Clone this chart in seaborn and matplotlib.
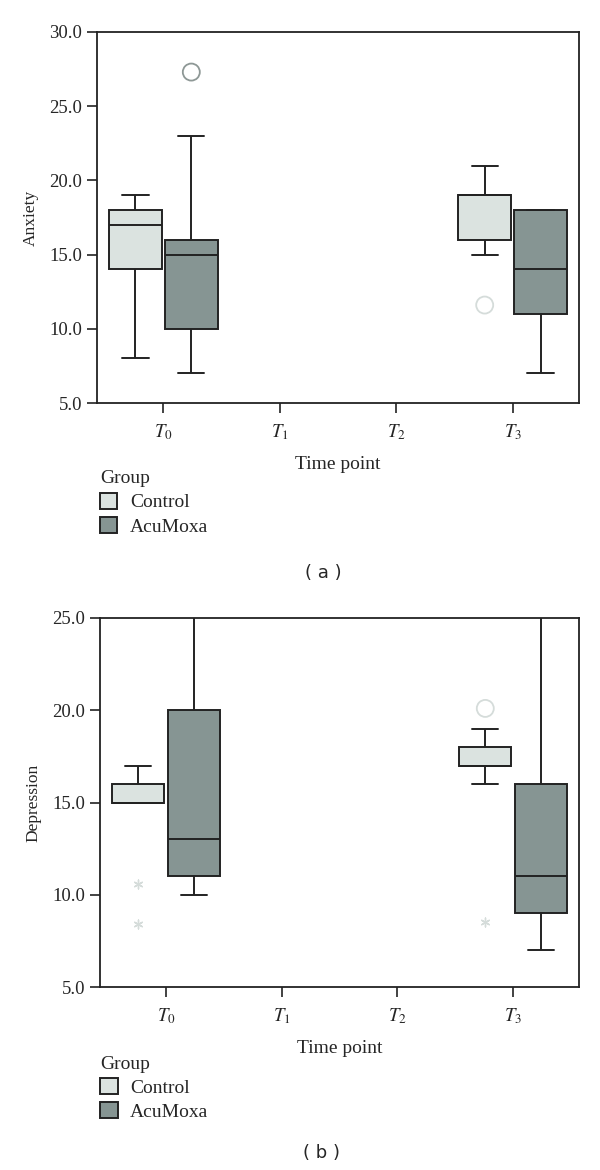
import numpy as np
import pandas as pd
import matplotlib
matplotlib.use('Agg')
import matplotlib.pyplot as plt
import seaborn as sns

sns.set_style('ticks')
plt.rcParams['font.family'] = ['Liberation Serif', 'DejaVu Serif']
plt.rcParams['mathtext.fontset'] = 'stix'

times = ['$T_0$', '$T_1$', '$T_2$', '$T_3$']
groups = ['Control', 'AcuMoxa']
colors = {'Control': '#dbe3e0', 'AcuMoxa': '#869593'}
flier_colors = {'Control': '#d5dcda', 'AcuMoxa': '#8e9896'}

# five-number summaries: low whisker, Q1, median, Q3, high whisker
anx_control_t0 = [8, 14, 17, 18, 19]
anx_acumoxa_t0 = [7, 10, 15, 16, 23]
anx_control_t3 = [15, 16, 19, 19, 21]
anx_acumoxa_t3 = [7, 11, 14, 18, 18]

dep_control_t0 = [15, 15, 15, 16, 17]
dep_acumoxa_t0 = [10, 11, 13, 20, 27]
dep_control_t3 = [16, 17, 17, 18, 19]
dep_acumoxa_t3 = [7, 9, 11, 16, 27]

# outliers (circles) and extreme values (asterisks)
anx_outliers = [('$T_0$', 'AcuMoxa', 27.3), ('$T_3$', 'Control', 11.6)]
anx_extremes = []
dep_outliers = [('$T_3$', 'Control', 20.1)]
dep_extremes = [('$T_0$', 'Control', 10.6), ('$T_0$', 'Control', 8.4),
                ('$T_3$', 'Control', 8.5)]

box_width = 0.96


def long_table(summaries):
    rows = []
    for (t, g), vals in summaries.items():
        for v in vals:
            rows.append({'time': t, 'group': g, 'score': v})
    return pd.DataFrame(rows)


def dodge_x(t, g):
    slot = box_width / len(groups)
    return times.index(t) + (groups.index(g) - 0.5) * slot


def draw_panel(ax, df, outliers, extremes, ylabel, ymax, tag, leg_xy, tag_xy):
    sns.boxplot(data=df, x='time', y='score', hue='group', order=times,
                hue_order=groups, palette=colors, saturation=1,
                width=box_width, gap=0.06, whis=(0, 100),
                linecolor='#222222', linewidth=1.4, ax=ax)
    for t, g, v in outliers:
        ax.scatter(dodge_x(t, g), v, s=150, marker='o', facecolors='none',
                   edgecolors=flier_colors[g], linewidths=1.3, zorder=5)
    for t, g, v in extremes:
        ax.scatter(dodge_x(t, g), v, s=40, marker=(6, 2, 0),
                   color=flier_colors[g], linewidths=1.0, zorder=5)
    ax.set_xlim(-0.57, 3.57)
    ax.set_ylim(5, ymax)
    ax.set_yticks(np.arange(5, ymax + 0.1, 5))
    ax.set_yticklabels([f'{v:.1f}' for v in np.arange(5, ymax + 0.1, 5)])
    ax.set_xlabel('Time point', fontsize=14, labelpad=10)
    ax.set_ylabel(ylabel, fontsize=12.5, labelpad=8)
    ax.tick_params(axis='both', labelsize=13.5, length=7, width=1.2, color='#222222')
    ax.tick_params(axis='x', pad=7)
    for s in ax.spines.values():
        s.set_linewidth(1.3)
        s.set_color('#222222')
    handles, labels = ax.get_legend_handles_labels()
    if ax.get_legend() is not None:
        ax.get_legend().remove()
    leg = ax.legend(handles, labels, title='Group', loc='upper left',
                    bbox_to_anchor=leg_xy, frameon=False, borderaxespad=0,
                    fontsize=14, title_fontsize=14, handlelength=0.9,
                    handleheight=0.9, handletextpad=0.65, labelspacing=0.28,
                    borderpad=0)
    leg._legend_box.align = 'left'
    ax.text(tag_xy[0], tag_xy[1], '( ' + tag + ' )', transform=ax.transAxes,
            ha='center', va='center', fontsize=13, family='DejaVu Sans')


anx = long_table({
    ('$T_0$', 'Control'): anx_control_t0,
    ('$T_0$', 'AcuMoxa'): anx_acumoxa_t0,
    ('$T_3$', 'Control'): anx_control_t3,
    ('$T_3$', 'AcuMoxa'): anx_acumoxa_t3,
})
dep = long_table({
    ('$T_0$', 'Control'): dep_control_t0,
    ('$T_0$', 'AcuMoxa'): dep_acumoxa_t0,
    ('$T_3$', 'Control'): dep_control_t3,
    ('$T_3$', 'AcuMoxa'): dep_acumoxa_t3,
})

fig = plt.figure(figsize=(6, 11.7), dpi=100)
ax1 = fig.add_axes([97 / 600, 1 - 403 / 1170, 482 / 600, 371 / 1170])
ax2 = fig.add_axes([100 / 600, 1 - 987 / 1170, 479 / 600, 369 / 1170])

draw_panel(ax1, anx, anx_outliers, anx_extremes, 'Anxiety', 30, 'a',
           (0.006, -0.181), (0.469, -0.457))
draw_panel(ax2, dep, dep_outliers, dep_extremes, 'Depression', 25, 'b',
           (0.0, -0.186), (0.463, -0.45))

fig.savefig('out.png', dpi=100)
